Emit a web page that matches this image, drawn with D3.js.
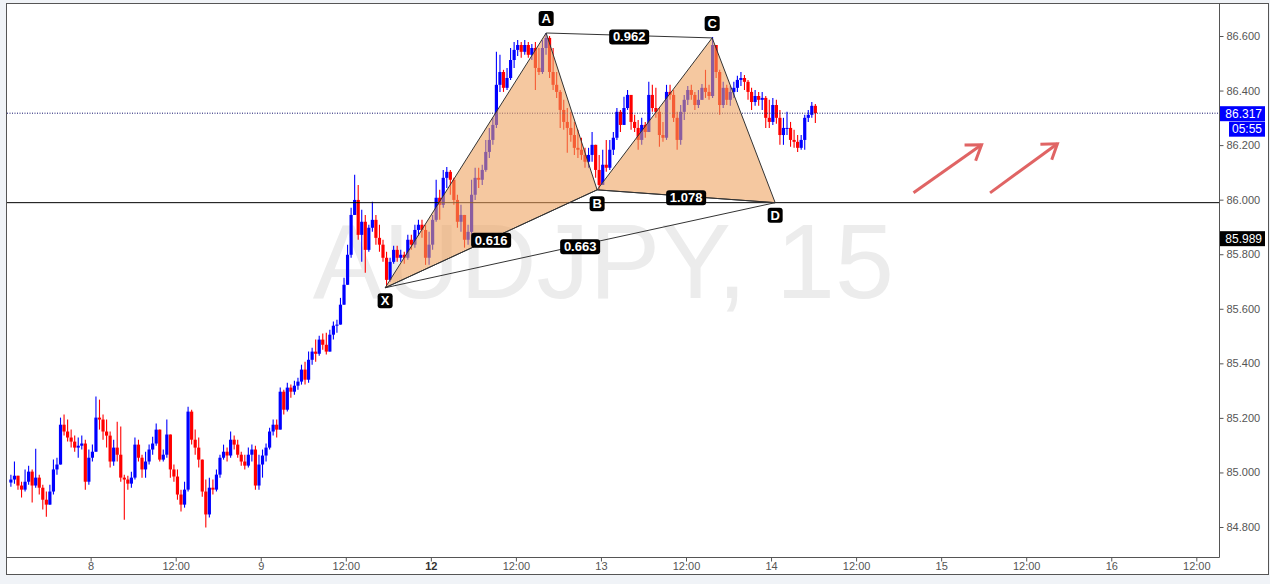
<!DOCTYPE html>
<html><head><meta charset="utf-8">
<script src="https://cdn.jsdelivr.net/npm/d3@7/dist/d3.min.js"></script>
<style>body{margin:0;background:#f0f3f7;}svg{display:block}</style>
</head><body><svg id="c" width="1270" height="584"></svg>
<script>
// ---- DATA (hours counted in trading time from day 8 00:00, weekend skipped) ----
const firstBarHour = -11.5;
const barHours = 0.5;
const firstOpen = 84.963;
const closes = [
84.974,84.988,84.952,84.937,84.966,85.003,84.952,84.981,84.944,84.900,
84.882,84.930,85.011,85.029,85.175,85.150,85.128,85.113,85.091,85.098,
85.106,84.966,85.054,85.076,85.201,85.194,85.150,85.135,85.040,85.091,
85.065,84.981,84.974,84.959,84.981,85.102,85.054,85.011,85.040,85.084,
85.106,85.157,85.047,85.065,85.139,85.011,84.985,84.919,84.882,84.937,
85.223,85.120,85.091,85.047,84.930,84.846,84.944,84.937,84.992,85.054,
85.076,85.062,85.120,85.102,85.065,85.040,85.025,85.065,85.084,84.952,
85.029,85.062,85.091,85.150,85.175,85.157,85.296,85.230,85.311,85.296,
85.318,85.333,85.377,85.340,85.413,85.443,85.435,85.487,85.468,85.443,
85.505,85.538,85.542,85.615,85.688,85.798,85.944,85.999,85.871,85.919,
85.816,85.897,85.926,85.860,85.835,85.787,85.706,85.772,85.816,85.787,
85.798,85.787,85.853,85.835,85.889,85.908,85.889,85.787,85.835,85.926,
86.007,85.981,86.080,86.102,86.073,85.999,85.919,85.944,85.853,85.882,
86.018,86.080,86.073,86.109,86.175,86.219,86.274,86.421,86.468,86.410,
86.446,86.512,86.549,86.567,86.542,86.567,86.531,86.556,86.483,86.468,
86.556,86.593,86.468,86.421,86.395,86.329,86.285,86.263,86.237,86.190,
86.183,86.164,86.139,86.164,86.201,86.109,86.054,86.128,86.117,86.183,
86.227,86.322,86.274,86.336,86.384,86.285,86.263,86.219,86.274,86.248,
86.384,86.336,86.322,86.237,86.227,86.395,86.384,86.300,86.219,86.322,
86.366,86.402,86.384,86.347,86.366,86.410,86.395,86.380,86.567,86.468,
86.347,86.410,86.366,86.395,86.410,86.439,86.446,86.432,86.395,86.358,
86.380,86.366,86.373,86.300,86.285,86.347,86.300,86.237,86.263,86.263,
86.219,86.212,86.190,86.219,86.300,86.311,86.344,86.317];
const highs = [
84.992,85.040,84.981,84.966,85.011,85.025,85.011,85.087,84.992,84.955,
84.930,84.955,85.047,85.054,85.201,85.212,85.194,85.157,85.135,85.128,
85.135,85.120,85.084,85.102,85.278,85.267,85.212,85.194,85.150,85.120,
85.186,85.168,84.992,84.988,85.003,85.128,85.120,85.065,85.076,85.102,
85.131,85.179,85.157,85.084,85.194,85.139,85.029,85.011,84.937,84.966,
85.241,85.230,85.157,85.128,85.029,84.974,84.981,84.974,85.011,85.065,
85.102,85.091,85.150,85.135,85.120,85.076,85.065,85.091,85.102,85.098,
85.065,85.084,85.106,85.164,85.194,85.194,85.311,85.303,85.329,85.322,
85.336,85.347,85.395,85.406,85.443,85.457,85.487,85.501,85.509,85.512,
85.523,85.553,85.560,85.640,85.714,85.835,85.970,86.091,86.054,85.963,
85.944,85.908,85.992,85.944,85.908,85.853,85.809,85.787,85.831,85.831,
85.816,85.809,85.871,85.871,85.908,85.926,85.926,85.908,85.882,85.944,
86.073,86.036,86.109,86.120,86.109,86.080,86.018,85.981,85.944,85.908,
86.073,86.117,86.117,86.128,86.219,86.263,86.300,86.542,86.531,86.476,
86.483,86.556,86.578,86.585,86.578,86.585,86.578,86.571,86.578,86.556,
86.585,86.611,86.600,86.556,86.468,86.402,86.366,86.336,86.322,86.285,
86.256,86.227,86.190,86.190,86.248,86.201,86.164,86.183,86.219,86.219,
86.248,86.336,86.329,86.377,86.402,86.384,86.311,86.292,86.300,86.285,
86.432,86.421,86.410,86.336,86.285,86.421,86.421,86.402,86.322,86.347,
86.384,86.417,86.421,86.395,86.402,86.424,86.476,86.421,86.596,86.567,
86.476,86.432,86.421,86.417,86.432,86.454,86.468,86.457,86.439,86.410,
86.402,86.395,86.395,86.380,86.366,86.373,86.366,86.329,86.300,86.322,
86.285,86.256,86.237,86.237,86.311,86.329,86.358,86.351];
const lows = [
84.948,84.959,84.937,84.908,84.930,84.955,84.890,84.944,84.919,84.864,
84.838,84.882,84.919,84.992,85.029,85.135,85.113,85.091,85.076,85.054,
85.084,84.937,84.955,85.040,85.084,85.157,85.120,85.091,85.018,85.025,
85.040,84.966,84.827,84.937,84.944,84.974,85.040,84.981,84.981,85.029,
85.065,85.098,85.040,85.040,85.054,84.981,84.966,84.900,84.857,84.871,
84.930,85.102,85.065,85.018,84.911,84.798,84.835,84.919,84.930,84.981,
85.047,85.040,85.054,85.084,85.054,85.025,85.011,85.018,85.040,84.937,
84.937,84.981,85.040,85.084,85.135,85.128,85.164,85.212,85.223,85.274,
85.285,85.303,85.322,85.322,85.329,85.395,85.406,85.428,85.450,85.432,
85.450,85.487,85.512,85.542,85.615,85.688,85.787,85.944,85.853,85.772,
85.732,85.809,85.882,85.835,85.809,85.772,85.677,85.699,85.765,85.772,
85.772,85.765,85.780,85.816,85.824,85.867,85.860,85.761,85.761,85.816,
85.919,85.926,85.970,86.043,86.018,85.981,85.897,85.882,85.824,85.835,
85.871,85.999,86.043,86.054,86.102,86.153,86.201,86.263,86.395,86.395,
86.402,86.439,86.483,86.527,86.520,86.531,86.520,86.512,86.402,86.457,
86.461,86.531,86.446,86.402,86.373,86.263,86.256,86.172,86.212,86.164,
86.153,86.146,86.117,86.117,86.139,86.080,86.036,86.080,86.102,86.109,
86.164,86.219,86.248,86.274,86.329,86.256,86.248,86.183,86.201,86.227,
86.256,86.322,86.300,86.194,86.212,86.219,86.366,86.285,86.183,86.201,
86.292,86.347,86.366,86.329,86.336,86.366,86.373,86.366,86.373,86.446,
86.311,86.336,86.347,86.344,86.373,86.395,86.417,86.402,86.366,86.329,
86.344,86.344,86.329,86.263,86.263,86.274,86.278,86.201,86.201,86.237,
86.194,86.190,86.175,86.183,86.183,86.285,86.300,86.281];

const yTicks = [84.8,85.0,85.2,85.4,85.6,85.8,86.0,86.2,86.4,86.6];
const xTickHours  = [0,12,24,36,48,60,72,84,96,108,120,132,144,156];
const xTickLabels = ["8","12:00","9","12:00","12","12:00","13","12:00","14","12:00","15","12:00","16","12:00"];
const boldTickLabels = ["12"];

// harmonic pattern points
const patNames  = ["X","A","B","C","D"];
const patHours  = [41.55,64.27,71.46,87.69,96.58];
const patPrices = [85.677,86.611,86.036,86.593,85.989];
const ratioPairs  = [["X","B"],["X","D"],["A","C"],["B","D"]];
const ratioLabels = ["0.616","0.663","0.962","1.078"];

const hLinePrice = 85.989;
const bidPrice = 86.317;
const bidLabel = "86.317";
const timerLabel = "05:55";
const hLineLabel = "85.989";
const hLineLabelPrice = 85.857;   // where that tag sits on the axis
const symbolText = "AUDJPY, 15";

// forecast arrows [startHour, startPrice, endHour, endPrice]
const arrowsData = [[116.1,86.025,125.7,86.201],[126.9,86.025,136.4,86.205]];

// ---- LAYOUT ----
const L = 7, R = 1219, T = 3, B = 557;
const svg = d3.select("#c");
const x = d3.scaleLinear().domain([-11.8,159.2]).range([L,R]);
const y = d3.scaleLinear().domain([84.8,86.6]).range([527,36]);

svg.append("rect").attr("x",6.5).attr("y",3.5).attr("width",1262).attr("height",571)
  .attr("fill","#fff").attr("stroke","#555").attr("stroke-width",1);

svg.append("defs").append("clipPath").attr("id","plot")
  .append("rect").attr("x",L).attr("y",T+1).attr("width",R-L).attr("height",B-T-1);

const g = svg.append("g").attr("clip-path","url(#plot)");

// watermark
g.append("text").attr("x",894).attr("y",298).attr("text-anchor","end")
  .attr("font-family","Liberation Sans, Arial, sans-serif").attr("font-size",106)
  .attr("fill","#ececec").text(symbolText);

// candles
const bars = closes.map((c,i)=>{
  const o = i===0 ? firstOpen : closes[i-1];
  return {t: firstBarHour + i*barHours + barHours/2, o, c, h: Math.max(highs[i],o,c), l: Math.min(lows[i],o,c)};
});
const cg = g.append("g");
bars.forEach(b=>{
  const col = b.c >= b.o ? "#0000ff" : "#ff0000";
  const cx = x(b.t);
  cg.append("line").attr("x1",cx).attr("x2",cx).attr("y1",y(b.h)).attr("y2",y(b.l))
    .attr("stroke",col).attr("stroke-width",1.1);
  const top = y(Math.max(b.o,b.c)), bot = y(Math.min(b.o,b.c));
  cg.append("rect").attr("x",cx-1.6).attr("width",3.2).attr("y",top).attr("height",Math.max(1,bot-top))
    .attr("fill",col);
});

// horizontal lines
g.append("line").attr("x1",L).attr("x2",R).attr("y1",y(hLinePrice)).attr("y2",y(hLinePrice))
  .attr("stroke","#000").attr("stroke-width",1);
g.append("line").attr("x1",L).attr("x2",R).attr("y1",y(bidPrice)).attr("y2",y(bidPrice))
  .attr("stroke","#10106a").attr("stroke-width",1).attr("stroke-dasharray","1,1.5");

// pattern
const P = {};
patNames.forEach((n,i)=>P[n]=[x(patHours[i]), y(patPrices[i])]);
const tri = (a,b,c)=>`M${P[a]}L${P[b]}L${P[c]}Z`;
g.append("path").attr("d",tri("X","A","B")).attr("fill","rgb(238,160,92)").attr("fill-opacity",0.58)
  .attr("stroke","#333").attr("stroke-width",1);
g.append("path").attr("d",tri("B","C","D")).attr("fill","rgb(238,160,92)").attr("fill-opacity",0.58)
  .attr("stroke","#333").attr("stroke-width",1);
ratioPairs.forEach(([a,b])=>{
  g.append("line").attr("x1",P[a][0]).attr("y1",P[a][1]).attr("x2",P[b][0]).attr("y2",P[b][1])
   .attr("stroke","#333").attr("stroke-width",1);
});
const font = "Liberation Sans, Arial, sans-serif";
ratioPairs.forEach(([a,b],i)=>{
  const mx=(P[a][0]+P[b][0])/2, my=(P[a][1]+P[b][1])/2+1.5;
  g.append("rect").attr("x",mx-20).attr("y",my-7.5).attr("width",40).attr("height",15).attr("rx",3).attr("fill","#000");
  g.append("text").attr("x",mx).attr("y",my+4.5).attr("text-anchor","middle").attr("fill","#fff")
    .attr("font-family",font).attr("font-weight","bold").attr("font-size",13).text(ratioLabels[i]);
});
const labelOffset = {X:13,A:-14.5,B:14,C:-14.5,D:12.5};
patNames.forEach(n=>{
  const cx=P[n][0], cy=P[n][1]+labelOffset[n];
  g.append("rect").attr("x",cx-7.5).attr("y",cy-7.5).attr("width",15).attr("height",15).attr("rx",3).attr("fill","#000");
  g.append("text").attr("x",cx).attr("y",cy+4.5).attr("text-anchor","middle").attr("fill","#fff")
    .attr("font-family",font).attr("font-weight","bold").attr("font-size",13).text(n);
});

// arrows
arrowsData.forEach(([h0,p0,h1,p1])=>{
  const x0=x(h0),y0=y(p0),x1=x(h1),y1=y(p1);
  const ang=Math.atan2(y0-y1,x0-x1);
  const ag = g.append("g").attr("stroke","#e06464").attr("stroke-width",3).attr("fill","none").attr("stroke-linecap","butt");
  ag.append("line").attr("x1",x0).attr("y1",y0).attr("x2",x1).attr("y2",y1);
  const len=17, spread=0.6;
  ag.append("path").attr("d",`M${x1+len*Math.cos(ang+spread)},${y1+len*Math.sin(ang+spread)}L${x1},${y1}L${x1+len*Math.cos(ang-spread)},${y1+len*Math.sin(ang-spread)}`);
});

// frame lines
svg.append("line").attr("x1",R+0.5).attr("x2",R+0.5).attr("y1",3.5).attr("y2",B+0.5).attr("stroke","#555");
svg.append("line").attr("x1",6.5).attr("x2",R+0.5).attr("y1",B+0.5).attr("y2",B+0.5).attr("stroke","#555");

// axes
const xa = svg.append("g").attr("transform",`translate(0,${B+0.5})`)
  .call(d3.axisBottom(x).tickValues(xTickHours).tickFormat((d,i)=>xTickLabels[i]).tickSize(4).tickPadding(1));
xa.select(".domain").remove();
xa.selectAll(".tick line").attr("stroke","#555");
xa.selectAll(".tick text").attr("font-family",font).attr("font-size",11)
  .attr("font-weight",(d,i)=>boldTickLabels.includes(xTickLabels[i])?"bold":"normal")
  .attr("fill",(d,i)=>boldTickLabels.includes(xTickLabels[i])?"#333":"#555");

const ya = svg.append("g").attr("transform",`translate(${R+0.5},0)`)
  .call(d3.axisRight(y).tickValues(yTicks).tickFormat(d3.format(".3f")).tickSize(4).tickPadding(3));
ya.select(".domain").remove();
ya.selectAll(".tick line").attr("stroke","#555");
ya.selectAll(".tick text").attr("font-family",font).attr("font-size",11).attr("fill","#555");

// price tags on axis
function tag(price, txt, bg, x0, w, dy){
  const cy=y(price)+dy;
  svg.append("rect").attr("x",x0).attr("y",cy-7.5).attr("width",w).attr("height",15).attr("fill",bg);
  svg.append("text").attr("x",x0+w-3).attr("y",cy+4).attr("text-anchor","end").attr("fill","#fff")
    .attr("font-family",font).attr("font-size",12).text(txt);
}
tag(bidPrice,bidLabel,"#0000ff",R+1,45,0.5);
tag(bidPrice,timerLabel,"#0000ff",R+10,36,16);
tag(hLineLabelPrice,hLineLabel,"#000",R+1,45,0);
</script></body></html>
